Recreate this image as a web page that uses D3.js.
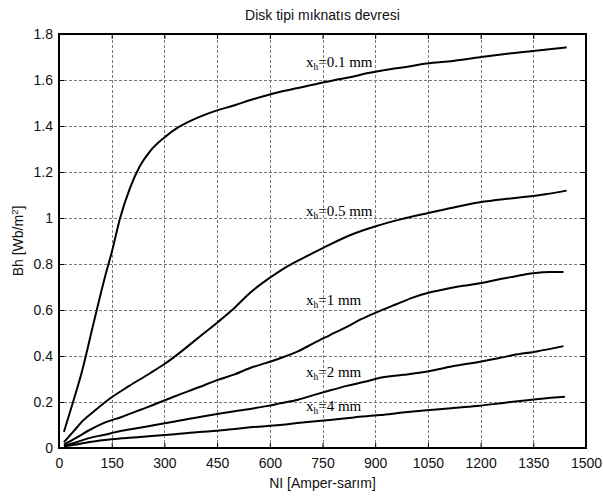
<!DOCTYPE html>
<html><head><meta charset="utf-8">
<script src="https://cdn.jsdelivr.net/npm/d3@7"></script>
<style>body{margin:0;background:#fff}svg{display:block}</style>
</head><body>
<svg id="c" width="603" height="496"></svg>
<script>
const title = "Disk tipi mıknatıs devresi";
const xLabel = "NI [Amper-sarım]";
const xTicks = [0,150,300,450,600,750,900,1050,1200,1350,1500];
const yTicks = [0,0.2,0.4,0.6,0.8,1,1.2,1.4,1.6,1.8];

const s01 = [[14,0.07],[40,0.2],[64,0.325],[98,0.54],[131,0.745],[150,0.85],[174,1.0],[202,1.13],[230,1.225],[259,1.29],[300,1.35],[340,1.395],[364,1.415],[400,1.44],[450,1.468],[500,1.49],[545,1.513],[600,1.537],[630,1.549],[680,1.565],[735,1.584],[780,1.598],[828,1.612],[880,1.63],[942,1.647],[1000,1.66],[1046,1.672],[1121,1.683],[1198,1.699],[1270,1.713],[1349,1.726],[1445,1.742]];
const s05 = [[14,0.025],[40,0.07],[69,0.12],[100,0.16],[145,0.215],[200,0.27],[259,0.325],[300,0.365],[335,0.404],[401,0.485],[450,0.545],[500,0.61],[544,0.675],[600,0.74],[650,0.79],[700,0.83],[752,0.87],[828,0.925],[904,0.965],[975,0.995],[1046,1.02],[1120,1.045],[1198,1.068],[1292,1.086],[1370,1.1],[1445,1.119]];
const s1 = [[14,0.015],[50,0.045],[83,0.075],[130,0.11],[178,0.135],[230,0.165],[273,0.19],[330,0.225],[400,0.265],[450,0.295],[500,0.32],[544,0.348],[590,0.37],[629,0.39],[680,0.42],[724,0.455],[770,0.49],[819,0.527],[860,0.56],[904,0.59],[960,0.625],[1009,0.655],[1060,0.678],[1104,0.692],[1150,0.705],[1198,0.716],[1250,0.733],[1293,0.745],[1350,0.76],[1400,0.765],[1436,0.765]];
const s2 = [[14,0.01],[50,0.025],[83,0.042],[130,0.058],[178,0.075],[230,0.088],[273,0.1],[330,0.115],[400,0.135],[450,0.148],[500,0.16],[544,0.17],[590,0.182],[629,0.194],[680,0.21],[724,0.23],[770,0.25],[819,0.27],[870,0.288],[914,0.305],[980,0.318],[1056,0.335],[1120,0.355],[1198,0.375],[1250,0.39],[1293,0.404],[1360,0.42],[1436,0.443]];
const s4 = [[14,0.008],[50,0.015],[83,0.025],[130,0.035],[178,0.042],[230,0.048],[273,0.053],[330,0.06],[400,0.07],[450,0.075],[500,0.083],[544,0.09],[629,0.1],[700,0.112],[771,0.122],[840,0.133],[914,0.143],[985,0.155],[1056,0.165],[1130,0.175],[1198,0.184],[1270,0.197],[1340,0.209],[1400,0.218],[1440,0.223]];

const seriesData = [s01, s05, s1, s2, s4];
const labelText = ["=0.1 mm","=0.5 mm","=1 mm","=2 mm","=4 mm"];
const labelX = [703,703,703,703,703];
const labelY = [1.657,1.009,0.622,0.309,0.161];

const m = {l:59, r:17, t:34, b:48};
const W = 603, H = 496;
const svg = d3.select("#c");
const x = d3.scaleLinear().domain([0,1500]).range([m.l, W-m.r]);
const y = d3.scaleLinear().domain([0,1.8]).range([H-m.b, m.t]);
const font = "'Liberation Sans', Arial, sans-serif";
const px = v => Math.round(v) + 0.5;

// grid
const grid = svg.append("g").attr("class","grid");
grid.selectAll("line.gx").data(xTicks.slice(1,-1)).join("line").attr("class","gx")
  .attr("x1",d=>px(x(d))).attr("x2",d=>px(x(d))).attr("y1",y(0)).attr("y2",y(1.8))
  .attr("stroke","#777").attr("stroke-width",1).attr("stroke-dasharray","3,2").attr("shape-rendering","crispEdges");
grid.selectAll("line.gy").data(yTicks.slice(1,-1)).join("line").attr("class","gy")
  .attr("y1",d=>px(y(d))).attr("y2",d=>px(y(d))).attr("x1",x(0)).attr("x2",x(1500))
  .attr("stroke","#777").attr("stroke-width",1).attr("stroke-dasharray","3,2").attr("shape-rendering","crispEdges");

// axes
const xa = svg.append("g").attr("transform",`translate(0,${y(0)})`)
  .call(d3.axisBottom(x).tickValues(xTicks).tickSizeInner(-5).tickSizeOuter(0).tickPadding(10).tickFormat(d3.format("d")));
const ya = svg.append("g").attr("transform",`translate(${x(0)},0)`)
  .call(d3.axisLeft(y).tickValues(yTicks).tickSizeInner(-5).tickSizeOuter(0).tickPadding(6).tickFormat(d=>d===0?"0":(d===1?"1":d3.format(".1f")(d))));
const xt = svg.append("g").attr("transform",`translate(0,${y(1.8)})`)
  .call(d3.axisTop(x).tickValues(xTicks).tickSizeInner(-5).tickSizeOuter(0).tickFormat(""));
const yr = svg.append("g").attr("transform",`translate(${x(1500)},0)`)
  .call(d3.axisRight(y).tickValues(yTicks).tickSizeInner(-5).tickSizeOuter(0).tickFormat(""));
[xa,ya,xt,yr].forEach(a=>{
  a.selectAll(".domain").remove();
  a.selectAll(".tick line").attr("stroke","#000").attr("stroke-width",1);
  a.selectAll("text").attr("font-family",font).attr("font-size",14).attr("fill","#111");
});

// frame
svg.append("rect").attr("x",x(0)).attr("y",y(1.8)).attr("width",x(1500)-x(0)).attr("height",y(0)-y(1.8))
  .attr("fill","none").attr("stroke","#000").attr("stroke-width",2);

// lines
const line = d3.line().x(d=>x(d[0])).y(d=>y(d[1])).curve(d3.curveMonotoneX);
svg.selectAll("path.s").data(seriesData).join("path").attr("class","s")
  .attr("d",line).attr("fill","none").attr("stroke","#000").attr("stroke-width",2).attr("stroke-linejoin","round");

// labels
labelText.forEach((t,i)=>{
  const tx = svg.append("text").attr("x",x(labelX[i])).attr("y",y(labelY[i]))
    .attr("font-family","'Liberation Serif','Times New Roman',serif").attr("font-size",15).attr("fill","#000");
  tx.append("tspan").text("x");
  tx.append("tspan").attr("font-size",9.5).attr("dy",3).text("h");
  tx.append("tspan").attr("dy",-3).text(t);
});

// title & axis labels
svg.append("text").attr("x",(x(0)+x(1500))/2).attr("y",20).attr("text-anchor","middle")
  .attr("font-family",font).attr("font-size",14).attr("fill","#111").text(title);
svg.append("text").attr("x",(x(0)+x(1500))/2).attr("y",488).attr("text-anchor","middle")
  .attr("font-family",font).attr("font-size",14).attr("fill","#111").text(xLabel);
const yl = svg.append("text").attr("transform",`translate(23,${(y(0)+y(1.8))/2}) rotate(-90)`).attr("text-anchor","middle")
  .attr("font-family",font).attr("font-size",14).attr("fill","#111");
yl.append("tspan").text("Bh [Wb/m");
yl.append("tspan").attr("font-size",9.5).attr("dy",-5).text("2");
yl.append("tspan").attr("dy",5).text("]");
</script>
</body></html>
